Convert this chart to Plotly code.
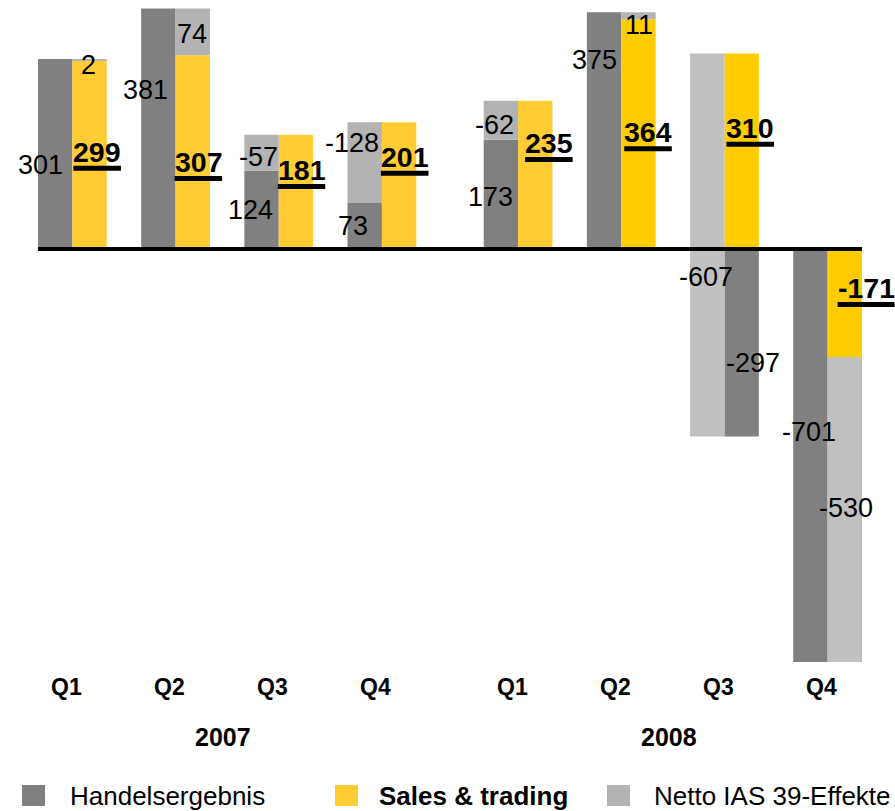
import plotly.graph_objects as go

# ---- data -------------------------------------------------------------
quarters = ["Q1", "Q2", "Q3", "Q4", "Q1", "Q2", "Q3", "Q4"]
years = ["2007", "2007", "2007", "2007", "2008", "2008", "2008", "2008"]
handelsergebnis = [301, 381, 124, 73, 173, 375, -297, -701]
sales_trading = [299, 307, 181, 201, 235, 364, 310, -171]
netto_ias39 = [2, 74, -57, -128, -62, 11, -607, -530]

series_names = ["Handelsergebnis", "Sales & trading", "Netto IAS 39-Effekte"]

# ---- styling ----------------------------------------------------------
FONT = "Liberation Sans, Arial, Helvetica, sans-serif"
DARK = "#808080"
YELLOW = "#FFCC33"
LIGHT = "#B3B3B3"
yellow_fill = ["#FFCC33"] * 5 + ["#FFCC00"] * 3
light_fill = ["#B3B3B3"] * 6 + ["#C0C0C0"] * 2

W, H = 895, 811
M_L, M_T, M_B = 38, 0, 149
BARS_RIGHT_PX = 862          # right edge of the last column
PLOT_W, PLOT_H = W - M_L, H - M_T - M_B
Y_RANGE = [-654.5, 394.6]

BAR_W = 1 / 3          # width of one column (category units)
YEAR_GAP = 0.32        # extra space between the two years
SALES_SIZE = 28.5      # font size of the bold sales figures

# label placement (value-axis positions and pixel nudges)
handel_label_y = [133, 252, 62, 36, 82, 300, -181, -290]
handel_label_dx = [-15, -13, -11, -12, -10, -10, 11, -1]
ias_label_y = [292, 341, 146, 168, 197, 355, -44, -410]
ias_label_dx = [-1, -1, -3, -13, -6, 1, -1, 1]
sales_label_y = [154, 138, 125, 146, 168, 185, 192, -62]
sales_label_dx = [0, -2, -2, -2, 6, 2, 1, 9]

# ---- geometry derived from the data -----------------------------------
year_order = list(dict.fromkeys(years))
pos = [i + YEAR_GAP * year_order.index(y) for i, y in enumerate(years)]
left_col = [p - BAR_W / 2 for p in pos]
right_col = [p + BAR_W / 2 for p in pos]

x_lo, x_hi = pos[0] - BAR_W, pos[-1] + BAR_W
px_per_unit = (BARS_RIGHT_PX - M_L) / (x_hi - x_lo)
x_range = [x_lo, x_lo + PLOT_W / px_per_unit]

# the trading result sits in the right column when it flips sign vs. sales
handel_x = [r if h * s < 0 else l
            for h, s, l, r in zip(handelsergebnis, sales_trading, left_col, right_col)]
# the IAS bridge stacks on the sales bar when it extends beyond it
ias_x = [r if abs(h) > abs(s) else l
         for h, s, l, r in zip(handelsergebnis, sales_trading, left_col, right_col)]

fig = go.Figure()
fig.add_trace(go.Bar(name=series_names[0], x=handel_x, y=handelsergebnis, base=0,
                     width=BAR_W, marker=dict(color=DARK, line=dict(width=0))))
fig.add_trace(go.Bar(name=series_names[1], x=right_col, y=sales_trading, base=0,
                     width=BAR_W, marker=dict(color=yellow_fill, line=dict(width=0))))
fig.add_trace(go.Bar(name=series_names[2], x=ias_x, y=netto_ias39, base=sales_trading,
                     width=BAR_W, marker=dict(color=light_fill, line=dict(width=0))))

annotations = []
shapes = []

# value labels
for i in range(len(quarters)):
    annotations.append(dict(x=handel_x[i], y=handel_label_y[i], xref="x", yref="y",
                            text=str(handelsergebnis[i]), showarrow=False,
                            xanchor="center", yanchor="middle", xshift=handel_label_dx[i],
                            font=dict(family=FONT, size=27, color="black")))
    annotations.append(dict(x=ias_x[i], y=ias_label_y[i], xref="x", yref="y",
                            text=str(netto_ias39[i]), showarrow=False,
                            xanchor="center", yanchor="middle", xshift=ias_label_dx[i],
                            font=dict(family=FONT, size=27, color="black")))
    s_txt = str(sales_trading[i])
    annotations.append(dict(x=pos[i], y=sales_label_y[i], xref="x", yref="y",
                            text="<b>" + s_txt + "</b>", showarrow=False,
                            xanchor="left", yanchor="middle", xshift=sales_label_dx[i],
                            borderpad=0,
                            font=dict(family=FONT, size=SALES_SIZE, color="black")))
    # thick underline under the bold sales figure
    txt_w = SALES_SIZE * sum(0.333 if ch == "-" else 0.556 for ch in s_txt)
    shapes.append(dict(type="rect", xref="x", yref="y",
                       xsizemode="pixel", xanchor=pos[i],
                       x0=sales_label_dx[i] + 1, x1=sales_label_dx[i] + 1 + txt_w,
                       ysizemode="pixel", yanchor=sales_label_y[i], y0=-19, y1=-14,
                       fillcolor="black", line=dict(width=0), layer="above"))

# zero line spanning the bars
shapes.append(dict(type="line", xref="x", yref="y",
                   x0=x_lo, x1=x_hi, y0=0, y1=0,
                   line=dict(color="black", width=4), layer="above"))

# quarter and year labels under the plot
for i, q in enumerate(quarters):
    annotations.append(dict(x=pos[i], y=0, xref="x", yref="paper", text="<b>" + q + "</b>",
                            showarrow=False, xanchor="center", yanchor="middle",
                            xshift=-6, yshift=-25,
                            font=dict(family=FONT, size=23, color="black")))
for yr in year_order:
    xs = [p for p, y in zip(pos, years) if y == yr]
    annotations.append(dict(x=(xs[0] + xs[-1]) / 2, y=0, xref="x", yref="paper",
                            text="<b>" + yr + "</b>", showarrow=False,
                            xanchor="center", yanchor="middle", xshift=-4, yshift=-75,
                            font=dict(family=FONT, size=25, color="black")))


# legend row
def paper_x(px):
    return (px - M_L) / PLOT_W


def paper_y(py):
    return (M_T + PLOT_H - py) / PLOT_H


legend_items = [
    (series_names[0], DARK, False, 22, 68),
    (series_names[1], YELLOW, True, 335, 377),
    (series_names[2], LIGHT, False, 607, 652),
]
for name, color, bold, sw_left, txt_left in legend_items:
    shapes.append(dict(type="rect", xref="paper", yref="paper",
                       x0=paper_x(sw_left), x1=paper_x(sw_left + 23),
                       y0=paper_y(806), y1=paper_y(785),
                       fillcolor=color, line=dict(width=0)))
    annotations.append(dict(x=paper_x(txt_left), y=paper_y(796), xref="paper", yref="paper",
                            text=("<b>%s</b>" % name) if bold else name, showarrow=False,
                            xanchor="left", yanchor="middle",
                            font=dict(family=FONT, size=26, color="black")))

fig.update_layout(
    width=W, height=H, autosize=False,
    margin=dict(l=M_L, r=0, t=M_T, b=M_B, pad=0),
    paper_bgcolor="white", plot_bgcolor="white",
    barmode="overlay", showlegend=False,
    xaxis=dict(range=x_range, visible=False, fixedrange=True),
    yaxis=dict(range=Y_RANGE, visible=False, showgrid=False, zeroline=False, fixedrange=True),
    annotations=annotations, shapes=shapes,
)

fig.write_html("out.html")
